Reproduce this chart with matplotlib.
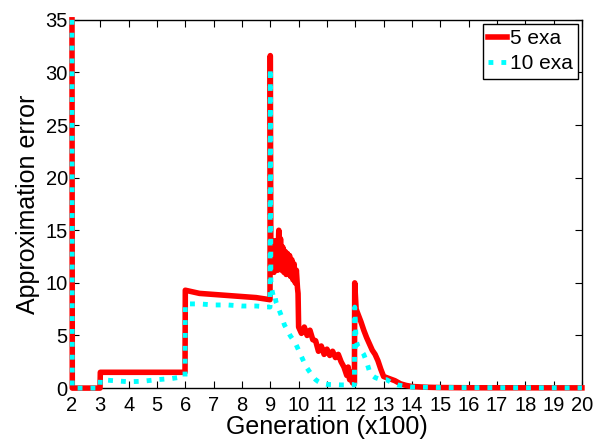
import numpy as np
import matplotlib
matplotlib.use("Agg")
import matplotlib.pyplot as plt

plt.rcParams['font.family'] = ['Liberation Sans', 'DejaVu Sans']

# generation (x100) and approximation error
gen_5 = [2.0, 2.01, 2.99, 3.0, 5.99, 6.0, 6.5, 7.0, 7.5, 8.0, 8.5, 8.99,
         9.0, 9.02, 9.05, 9.08, 9.1, 9.13, 9.16, 9.2, 9.23, 9.26, 9.3, 9.33,
         9.36, 9.4, 9.44, 9.48, 9.52, 9.56, 9.6, 9.64, 9.68, 9.72, 9.76, 9.8,
         9.84, 9.88, 9.92, 9.96, 9.98, 10.0, 10.1, 10.2, 10.3, 10.4, 10.5,
         10.6, 10.7, 10.8, 10.9, 11.0, 11.1, 11.2, 11.3, 11.4, 11.5, 11.6,
         11.7, 11.75, 11.8, 11.85, 11.9, 11.97, 11.98, 12.03, 12.1, 12.2,
         12.3, 12.4, 12.5, 12.6, 12.7, 12.8, 12.9, 13.0, 13.2, 13.4, 13.6,
         13.8, 14.0, 14.5, 15.0, 16.0, 20.0]
err_5 = [35, 0, 0, 1.5, 1.5, 9.3, 9.0, 8.9, 8.8, 8.7, 8.6, 8.4,
         31.6, 11.5, 13.8, 11.2, 13.4, 11.0, 14.0, 11.3, 13.6, 11.2, 15.0, 11.5,
         14.2, 11.2, 13.4, 11.0, 13.0, 10.8, 12.8, 10.8, 12.6, 10.6, 12.2, 10.3,
         11.8, 10.0, 11.2, 9.5, 9.0, 5.8, 5.2, 5.8, 5.0, 5.5, 4.6,
         4.5, 3.5, 4.0, 3.2, 3.7, 3.1, 3.5, 2.9, 3.2, 2.5, 2.0,
         1.2, 2.0, 0.8, 1.5, 0.5, 0.4, 10.0, 7.5, 7.0, 6.3,
         5.5, 4.8, 4.2, 3.6, 3.2, 2.6, 1.8, 1.1, 0.9, 0.7, 0.4,
         0.25, 0.15, 0.08, 0.05, 0.03, 0.02]

gen_10 = [2.0, 2.01, 2.99, 3.0, 3.5, 4.0, 4.5, 5.0, 5.5, 5.99, 6.0, 6.5,
          7.0, 7.5, 8.0, 8.5, 8.99, 9.0, 9.02, 9.06, 9.1, 9.15, 9.2, 9.3,
          9.4, 9.5, 9.6, 9.7, 9.8, 9.9, 10.0, 10.1, 10.2, 10.3, 10.4, 10.5,
          10.6, 10.7, 10.8, 11.0, 11.5, 11.97, 11.98, 12.03, 12.1, 12.2, 12.3,
          12.4, 12.5, 12.6, 12.7, 12.9, 13.1, 13.3, 13.5, 13.8, 14.0, 15.0, 20.0]
err_10 = [35, 0, 0, 0.8, 0.7, 0.6, 0.65, 0.8, 0.9, 1.1, 8.0, 8.0,
          7.9, 7.9, 7.8, 7.8, 7.7, 30.4, 10.2, 9.3, 8.8, 9.0, 8.2, 7.5,
          6.8, 6.0, 5.5, 5.0, 4.6, 4.2, 3.6, 3.0, 2.4, 1.9, 1.5, 1.1,
          0.8, 0.6, 0.45, 0.35, 0.3, 0.3, 7.7, 4.5, 3.9, 3.6, 3.2,
          2.5, 1.6, 1.2, 1.0, 0.8, 0.8, 0.5, 0.3, 0.15, 0.1, 0.05, 0.02]

fig = plt.figure(figsize=(5.95, 4.41), dpi=100)
ax = fig.add_axes([0.121, 0.120, 0.857, 0.835])

ax.plot(gen_5, err_5, color='#ff0000', lw=4, label='5 exa', clip_on=False, zorder=3)
ax.plot(gen_10, err_10, color='#00ffff', lw=3.5, ls=':', label='10 exa',
        clip_on=False, zorder=4)

ax.set_xlim(2, 20)
ax.set_ylim(0, 35)
ax.set_xticks(range(2, 21))
ax.set_yticks(range(0, 36, 5))
ax.tick_params(direction='in', top=True, right=True, length=5, labelsize=14.5)
ax.tick_params(axis='x', pad=6)
ax.tick_params(axis='y', pad=3)
for s in ax.spines.values():
    s.set_linewidth(1.0)

ax.set_xlabel('Generation (x100)', fontsize=18, labelpad=0)
ax.set_ylabel('Approximation error', fontsize=18, labelpad=4)

leg = ax.legend(loc='upper right', fontsize=15, fancybox=False, framealpha=1,
                edgecolor='black', handlelength=0.9, handletextpad=0.15,
                borderpad=0.25, labelspacing=0.3, borderaxespad=0.2)
leg.get_frame().set_linewidth(1.0)
leg.set_zorder(10)

fig.savefig('out.png', dpi=100)
